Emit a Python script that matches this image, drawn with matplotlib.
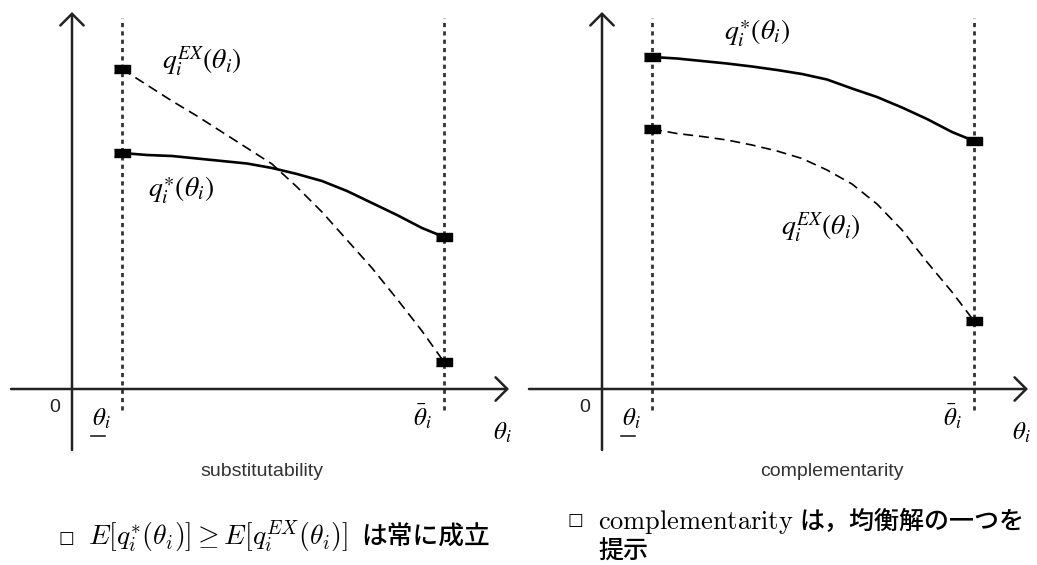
import matplotlib
matplotlib.use("Agg")
import matplotlib.pyplot as plt
from matplotlib.patches import FancyArrowPatch

plt.rcParams['mathtext.fontset'] = 'stix'

# type grid shared by both panels
theta = [1.0, 1.5, 2.0, 2.5, 3.0, 3.5, 4.0, 4.5, 5.0, 5.5, 6.0, 6.5, 7.0, 7.44]

# substitutability case
sub_q_star = [4.72, 4.68, 4.66, 4.61, 4.56, 4.51, 4.42, 4.30, 4.16, 3.96, 3.72, 3.48, 3.22, 3.04]
sub_q_ex = [6.40, 6.08, 5.76, 5.46, 5.14, 4.82, 4.50, 4.04, 3.54, 2.98, 2.42, 1.80, 1.16, 0.54]

# complementarity case
com_q_star = [6.64, 6.61, 6.56, 6.51, 6.45, 6.38, 6.30, 6.19, 6.01, 5.84, 5.63, 5.40, 5.14, 4.96]
com_q_ex = [5.20, 5.11, 5.05, 4.98, 4.88, 4.76, 4.61, 4.38, 4.10, 3.70, 3.18, 2.54, 1.94, 1.36]

lab_star = r'$q_i^{\ast}(\theta_i)$'
lab_ex = r'$q_i^{EX}(\theta_i)$'

# flat black block used at the curve ends
block = [(-1, -0.5), (1, -0.5), (1, 0.5), (-1, 0.5)]

fig = plt.figure(figsize=(10.37, 5.65), dpi=100)


def arrow(ax, p0, p1):
    ax.add_patch(FancyArrowPatch(p0, p1, arrowstyle='->,head_length=0.6,head_width=0.6',
                                 mutation_scale=14, lw=1.8, color='#222',
                                 shrinkA=0, shrinkB=0, zorder=2))


def panel(rect, xlim, q_star, q_ex, title, title_x, star_xy, ex_xy):
    ax = fig.add_axes(rect)
    ax.set_xlim(*xlim)
    ax.set_ylim(-3.52, 7.78)
    ax.axis('off')

    # axes with arrow heads
    arrow(ax, (xlim[0] + 0.22, 0), (xlim[1] - 0.18, 0))
    arrow(ax, (0, -1.22), (0, 7.54))

    lo, hi = theta[0], theta[-1]
    for t in (lo, hi):
        ax.plot([t, t], [-0.42, 7.42], color='#333', lw=2,
                ls=(0, (1.5, 1.5)), zorder=1)

    ax.plot(theta, q_star, color='k', lw=1.9, zorder=3)
    ax.plot(theta, q_ex, color='k', lw=1.2, ls=(0, (6, 3.5)), zorder=3)
    for q in (q_star, q_ex):
        ax.plot([lo, hi], [q[0], q[-1]], ls='none', marker=block, ms=12,
                color='k', zorder=4)

    ax.text(*star_xy, lab_star, fontsize=20, ha='center', va='center')
    ax.text(*ex_xy, lab_ex, fontsize=20, ha='center', va='center')

    # axis annotations
    ax.text(-0.34, -0.38, '0', fontsize=14, family='Liberation Sans',
            color='#222', ha='center', va='center')
    ax.text(lo - 0.42, -0.6, r'$\theta_i$', fontsize=18, ha='center', va='center')
    ax.plot([lo - 0.63, lo - 0.35], [-0.94, -0.94], color='#222', lw=1.2)
    ax.text(hi - 0.43, -0.56, r'$\bar{\theta}_i$', fontsize=18, ha='center', va='center')
    ax.text(xlim[1] - 0.32, -0.88, r'$\theta_i$', fontsize=18, ha='center', va='center')
    ax.text(title_x, -1.64, title, fontsize=14, family='Liberation Sans',
            color='#333', ha='center', va='center')
    return ax


panel([0, 0, 518 / 1037, 1], (-1.44, 8.92), sub_q_star, sub_q_ex,
      'substitutability', 3.8, (2.18, 3.98), (2.6, 6.54))
panel([518 / 1037, 0, 519 / 1037, 1], (-1.68, 8.70), com_q_star, com_q_ex,
      'complementarity', 4.6, (3.1, 7.12), (4.38, 3.22))

# remarks under the panels
jp = ['Noto Sans CJK JP', 'DejaVu Sans']
W, H = 1037, 565
fig.text(66 / W, 1 - 538 / H, '□', fontsize=12, family='DejaVu Sans',
         ha='center', va='center')
fig.text(88 / W, 1 - 545 / H,
         r'$E[q_i^{*}(\theta_i)] \geq E[q_i^{EX}(\theta_i)]$',
         fontsize=20, math_fontfamily='cm', va='baseline')
fig.text(361 / W, 1 - 545 / H, 'は常に成立', fontsize=18.5, family=jp,
         weight='medium', va='baseline')

fig.text(575 / W, 1 - 520 / H, '□', fontsize=12, family='DejaVu Sans',
         ha='center', va='center')
fig.text(598 / W, 1 - 529 / H, r'$\mathrm{complementarity}$',
         fontsize=19, math_fontfamily='cm', va='baseline')
fig.text(799 / W, 1 - 529 / H, 'は，均衡解の一つを', fontsize=18, family=jp,
         weight='medium', va='baseline')
fig.text(598 / W, 1 - 559 / H, '提示', fontsize=18, family=jp,
         weight='medium', va='baseline')

fig.savefig('out.png', dpi=100)
